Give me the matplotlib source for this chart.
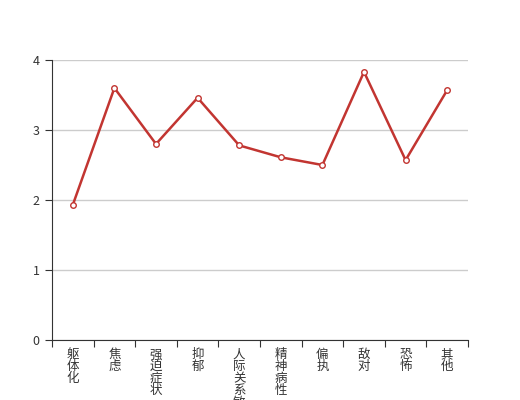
import matplotlib
matplotlib.use("Agg")
import matplotlib.pyplot as plt
import numpy as np

plt.rcParams['font.family'] = ['Noto Sans CJK SC', 'DejaVu Sans']

# data
categories = ["躯体化", "焦虑", "强迫症状", "抑郁", "人际关系敏感",
              "精神病性", "偏执", "敌对", "恐怖", "其他"]
scores = [1.93, 3.60, 2.80, 3.46, 2.78, 2.61, 2.50, 3.83, 2.57, 3.57]
y_ticks = [0, 1, 2, 3, 4]

fig = plt.figure(figsize=(5.2, 4), dpi=100)
ax = fig.add_axes([0.1, 0.15, 0.8, 0.7])

x = np.arange(len(categories))
ax.plot(x, scores, '-', color="#c23531", linewidth=1.8, zorder=3)
ax.plot(x, scores, 'o', markersize=4, markerfacecolor="white",
        markeredgecolor="#c23531", markeredgewidth=1, zorder=4)

ax.set_xlim(-0.5, len(categories) - 0.5)
ax.set_ylim(0, 4)
ax.set_yticks(y_ticks)
ax.yaxis.grid(True, color="#cccccc", linewidth=1)
ax.set_axisbelow(True)

# category boundary ticks, labels at centers (long label runs off the bottom, as in the original)
ax.set_xticks(np.arange(len(categories) + 1) - 0.5)
ax.set_xticklabels([])
ax.set_xticks(x, minor=True)
ax.set_xticklabels(["\n".join(c) for c in categories], minor=True,
                   fontsize=9, color="#333333", va="top", linespacing=0.88)
ax.tick_params(axis="x", which="minor", length=0, pad=6)
ax.tick_params(axis="x", which="major", length=5, color="#333333")
ax.tick_params(axis="y", length=5, color="#333333", labelsize=9,
               labelcolor="#333333", pad=4)

for side in ["top", "right"]:
    ax.spines[side].set_visible(False)
for side in ["left", "bottom"]:
    ax.spines[side].set_color("#333333")

fig.savefig("out.png", dpi=100)
